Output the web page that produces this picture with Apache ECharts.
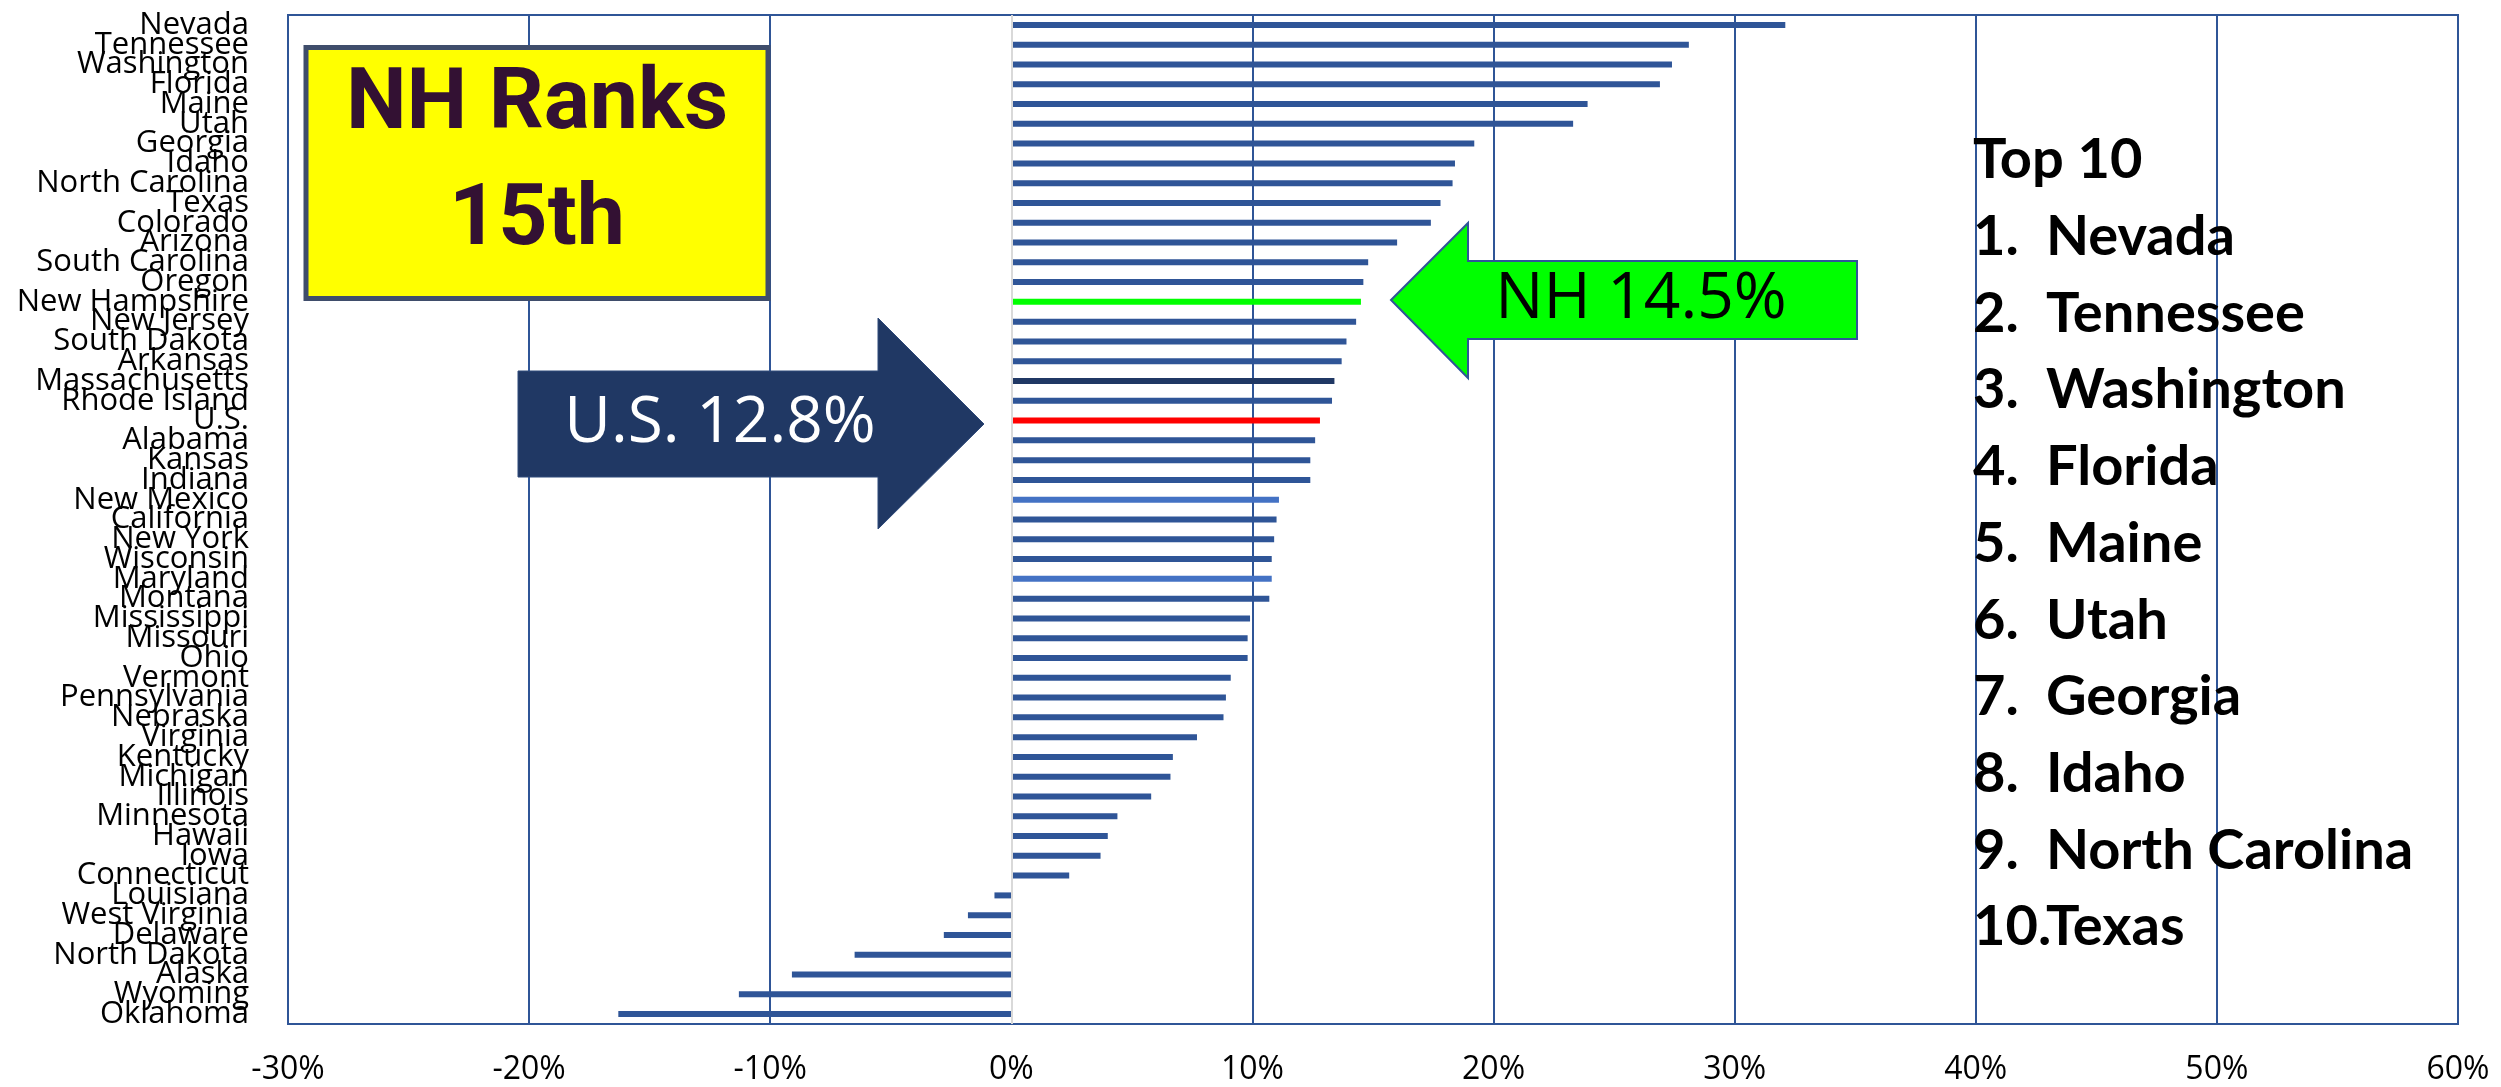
<!DOCTYPE html>
<html>
<head>
<meta charset="utf-8">
<script src="https://cdn.jsdelivr.net/npm/echarts@6/dist/echarts.min.js"></script>
<style>
html, body { margin: 0; padding: 0; background: #fff; }
#main { width: 2501px; height: 1087px; }
</style>
</head>
<body>
<div id="main"></div>
<script>
// population growth by state, sorted high to low
var states = ['Nevada', 'Tennessee', 'Washington', 'Florida', 'Maine', 'Utah', 'Georgia', 'Idaho',
    'North Carolina', 'Texas', 'Colorado', 'Arizona', 'South Carolina', 'Oregon', 'New Hampshire',
    'New Jersey', 'South Dakota', 'Arkansas', 'Massachusetts', 'Rhode Island', 'U.S.', 'Alabama',
    'Kansas', 'Indiana', 'New Mexico', 'California', 'New York', 'Wisconsin', 'Maryland', 'Montana',
    'Mississippi', 'Missouri', 'Ohio', 'Vermont', 'Pennsylvania', 'Nebraska', 'Virginia', 'Kentucky',
    'Michigan', 'Illinois', 'Minnesota', 'Hawaii', 'Iowa', 'Connecticut', 'Louisiana', 'West Virginia',
    'Delaware', 'North Dakota', 'Alaska', 'Wyoming', 'Oklahoma'];
var growth = [32.1, 28.1, 27.4, 26.9, 23.9, 23.3, 19.2, 18.4,
    18.3, 17.8, 17.4, 16.0, 14.8, 14.6, 14.5,
    14.3, 13.9, 13.7, 13.4, 13.3, 12.8, 12.6,
    12.4, 12.4, 11.1, 11.0, 10.9, 10.8, 10.8, 10.7,
    9.9, 9.8, 9.8, 9.1, 8.9, 8.8, 7.7, 6.7,
    6.6, 5.8, 4.4, 4.0, 3.7, 2.4, -0.7, -1.8,
    -2.8, -6.5, -9.1, -11.3, -16.3];
var xMin = -30, xMax = 60, xStep = 10;

// bar colours that differ from the default
var defaultColor = '#2F5597';
var specialColors = {
    'New Hampshire': '#00FF00',
    'U.S.': '#FF0000',
    'Massachusetts': '#203864',
    'New Mexico': '#4472C4',
    'Maryland': '#4472C4'
};

var myChart = echarts.init(document.getElementById('main'));

function listText(text, x, y) {
    return {
        type: 'text', x: x, y: y, z: 100,
        style: { text: text, fill: '#000', fontSize: 56, fontWeight: 'bold', fontFamily: 'Lato',
            align: 'left', verticalAlign: 'middle', textAlign: 'left', textVerticalAlign: 'middle' }
    };
}

// top 10 list on the right
var listElems = [listText('Top 10', 1973, 160)];
states.slice(0, 10).forEach(function (name, i) {
    var y = 237 + i * 76.7;
    listElems.push(listText((i + 1) + '.', 1973, y));
    listElems.push(listText(name, 2046, y));
});

var option = {
    animation: false,
    backgroundColor: '#fff',
    grid: {
        left: 288, right: 43, top: 15, bottom: 63,
        show: true, borderColor: '#2F5597', borderWidth: 2
    },
    xAxis: {
        type: 'value',
        min: xMin, max: xMax, interval: xStep,
        axisLine: { show: false },
        axisTick: { show: false },
        splitLine: { show: true, lineStyle: { color: '#2F5597', width: 2 } },
        axisLabel: {
            formatter: '{value}%', fontSize: 32, color: '#000',
            fontFamily: 'Open Sans', margin: 30
        }
    },
    yAxis: {
        type: 'category',
        data: states,
        inverse: true,
        axisLine: { show: false, onZero: false },
        axisTick: { show: false },
        axisLabel: {
            interval: 0, hideOverlap: false, fontSize: 31, color: '#000',
            fontFamily: 'Open Sans', margin: 39
        }
    },
    series: [{
        type: 'bar',
        data: growth,
        barWidth: 6,
        itemStyle: {
            color: function (p) { return specialColors[p.name] || defaultColor; }
        },
        markLine: {
            silent: true,
            symbol: ['none', 'none'],
            label: { show: false },
            lineStyle: { color: '#D9D9D9', width: 2, type: 'solid' },
            data: [{ xAxis: 0 }]
        }
    }],
    graphic: {
        elements: [
            // yellow rank box
            {
                type: 'rect', z: 100,
                shape: { x: 306, y: 47.5, width: 462, height: 251 },
                style: { fill: '#FFFF00', stroke: '#3F4D6B', lineWidth: 5 }
            },
            {
                type: 'text', x: 537, y: 106, z: 101,
                style: { text: 'NH Ranks', fill: '#331133', fontSize: 86, fontWeight: 'bold', fontFamily: 'Roboto',
                    align: 'center', verticalAlign: 'middle', textAlign: 'center', textVerticalAlign: 'middle' }
            },
            {
                type: 'text', x: 537, y: 222, z: 101,
                style: { text: '15th', fill: '#331133', fontSize: 86, fontWeight: 'bold', fontFamily: 'Roboto',
                    align: 'center', verticalAlign: 'middle', textAlign: 'center', textVerticalAlign: 'middle' }
            },
            // U.S. arrow
            {
                type: 'polygon', z: 100,
                shape: { points: [[518, 371], [878, 371], [878, 318], [984, 424], [878, 529], [878, 477], [518, 477]] },
                style: { fill: '#203864', stroke: '#2F4A7A', lineWidth: 1 }
            },
            {
                type: 'text', x: 720, y: 424, z: 101,
                style: { text: 'U.S. 12.8%', fill: '#fff', fontSize: 64, fontFamily: 'Open Sans',
                    align: 'center', verticalAlign: 'middle', textAlign: 'center', textVerticalAlign: 'middle' }
            },
            // NH arrow
            {
                type: 'polygon', z: 100,
                shape: { points: [[1391, 300], [1468, 223], [1468, 261], [1857, 261], [1857, 339], [1468, 339], [1468, 378]] },
                style: { fill: '#00FF00', stroke: '#2F5597', lineWidth: 2 }
            },
            {
                type: 'text', x: 1641, y: 300, z: 101,
                style: { text: 'NH 14.5%', fill: '#000', fontSize: 64, fontFamily: 'Open Sans',
                    align: 'center', verticalAlign: 'middle', textAlign: 'center', textVerticalAlign: 'middle' }
            }
        ].concat(listElems)
    }
};

myChart.setOption(option);
</script>
</body>
</html>
